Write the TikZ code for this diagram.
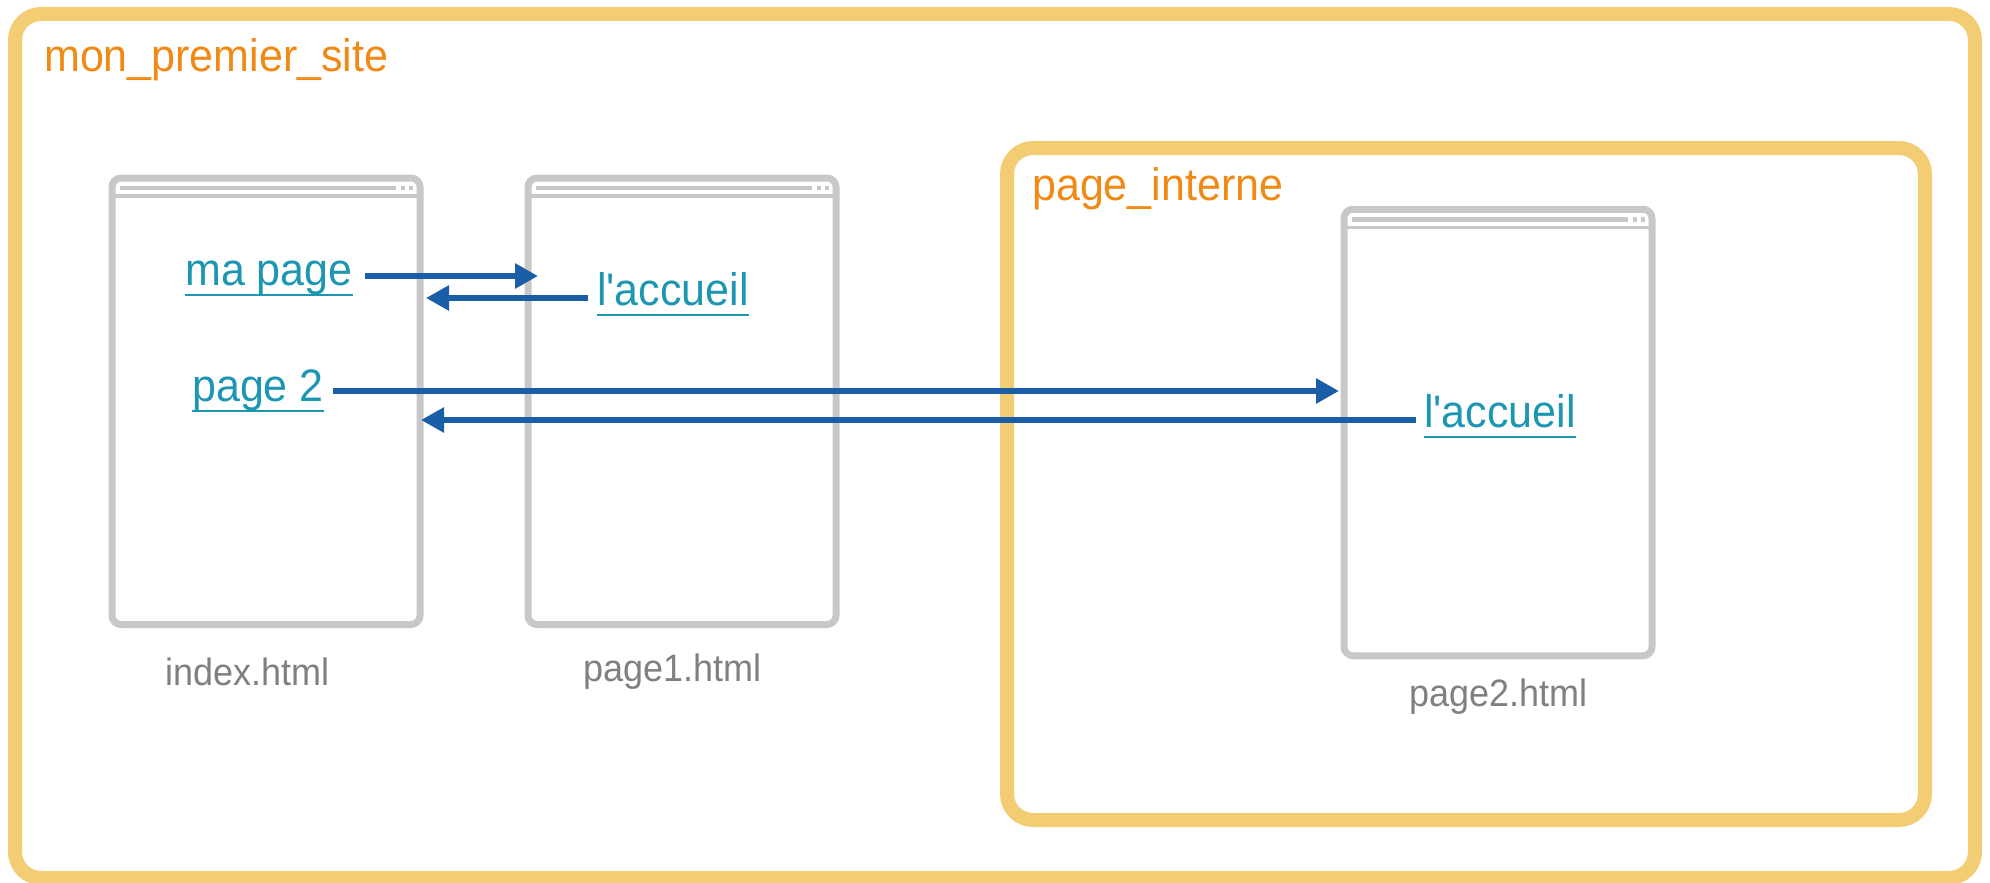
\documentclass[tikz,border=0pt]{standalone}
\usepackage{fontspec}
\setmainfont{Liberation Sans}[Ligatures=TeXOff]
\usetikzlibrary{arrows.meta,calc}
\definecolor{frameyel}{RGB}{243,205,115}
\definecolor{labelorange}{RGB}{240,138,20}
\definecolor{wingray}{RGB}{200,200,200}
\definecolor{filegray}{RGB}{128,128,128}
\definecolor{linkteal}{RGB}{29,150,178}
\definecolor{arrowblue}{RGB}{27,94,168}
\newcommand{\tallbox}[1]{\scalebox{1}[1.06]{#1}}
\tikzset{
  yelbox/.style={draw=frameyel, line width=14pt, rounded corners=26pt, inner sep=0pt, outer sep=0pt},
  winbox/.style={draw=wingray, line width=7pt, rounded corners=9pt, inner sep=0pt, outer sep=0pt,
                 minimum width=308pt, minimum height=446.5pt},
  foldertext/.style={anchor=base west, inner sep=0pt, text=labelorange, font=\fontsize{43}{50}\selectfont},
  linktext/.style={anchor=base west, inner sep=0pt, text=linkteal, font=\fontsize{43}{50}\selectfont},
  filetext/.style={anchor=base west, inner sep=0pt, text=filegray, font=\fontsize{36}{42}\selectfont},
  ulinestyle/.style={draw=linkteal, line width=2.8pt},
  linkarrow/.style={draw=arrowblue, line width=6.8pt, -{Triangle[length=23pt,width=24pt]}},
  barstyle/.style={draw=wingray, line width=4.5pt},
  sepstyle/.style={draw=wingray, line width=3.5pt}
}
\newcommand{\browserdeco}[1]{%
  \draw[barstyle] ([shift={(8,10)}]#1.north west) -- ([shift={(-24,10)}]#1.north east);
  \fill[wingray] ([shift={(-19.25,7.75)}]#1.north east) rectangle ++(4.5,4.5);
  \fill[wingray] ([shift={(-11.25,7.75)}]#1.north east) rectangle ++(4.5,4.5);
  \draw[sepstyle] ([shift={(3,18)}]#1.north west) -- ([shift={(-3,18)}]#1.north east);
}
\newcommand{\linkuline}[1]{%
  \draw[ulinestyle] ([yshift=-10pt]#1.base west) -- ([yshift=-10pt]#1.base east);
}
\begin{document}
\begin{tikzpicture}[x=1pt,y=-1pt]
\useasboundingbox (0,0) rectangle (1990,883);
% frames
\node[yelbox, minimum width=1960pt, minimum height=864pt] (site) at (995,446) {};
\node[yelbox, minimum width=918pt, minimum height=672pt] (interne) at (1466,484) {};
\node[foldertext] (sitelabel) at (44,71) {\tallbox{mon\_premier\_site}};
\node[foldertext] (internelabel) at (1032,200) {\tallbox{page\_interne}};
% browser windows
\node[winbox] (idx) at (266,401.25) {};
\node[winbox] (pone) at (682,401.25) {};
\node[winbox] (ptwo) at (1498,432.5) {};
\browserdeco{idx}
\browserdeco{pone}
\browserdeco{ptwo}
% file names
\node[filetext] (idxname) at (165,685) {\tallbox{index.html}};
\node[filetext] (ponename) at (583,681) {\tallbox{page1.html}};
\node[filetext] (ptwoname) at (1409,706) {\tallbox{page2.html}};
% links
\node[linktext] (mapage) at (185,285) {\tallbox{ma page}};
\node[linktext] (pagetwo) at (192,401) {\tallbox{page 2}};
\node[linktext] (accone) at (597,305) {\tallbox{l'accueil}};
\node[linktext] (acctwo) at (1424,427) {\tallbox{l'accueil}};
\linkuline{mapage}
\linkuline{pagetwo}
\linkuline{accone}
\linkuline{acctwo}
% arrow ends
\coordinate (aoneend) at (538,276);
\coordinate (atwoend) at (426,298);
\coordinate (athreeend) at (1339,391);
\coordinate (afourend) at (421,420);
\draw[linkarrow] ($(mapage.east |- aoneend)+(12,0)$) -- (aoneend);
\draw[linkarrow] ($(accone.west |- atwoend)+(-9,0)$) -- (atwoend);
\draw[linkarrow] ($(pagetwo.east |- athreeend)+(9,0)$) -- (athreeend);
\draw[linkarrow] ($(acctwo.west |- afourend)+(-8,0)$) -- (afourend);
\end{tikzpicture}
\end{document}
